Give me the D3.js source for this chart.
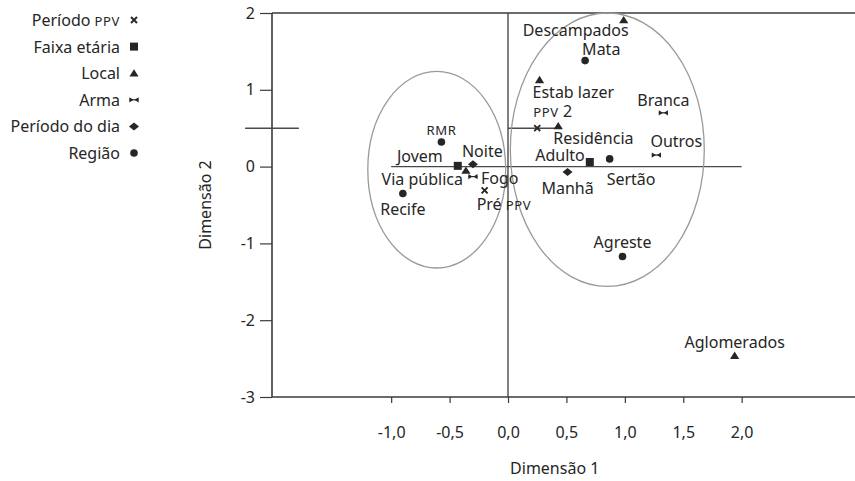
<!DOCTYPE html>
<html>
<head>
<meta charset="utf-8">
<script src="https://cdn.jsdelivr.net/npm/d3@7/dist/d3.min.js"></script>
<style>
  html, body { margin: 0; padding: 0; background: #fff; }
  svg { display: block; font-family: "Noto Sans", sans-serif; }
</style>
</head>
<body>
<svg id="chart" width="855" height="481"></svg>
<script>
// Categories of the correspondence analysis
const groupNames = ["Período PPV", "Faixa etária", "Local", "Arma", "Período do dia", "Região"];
const groupSymbols = ["cross", "square", "triangle", "bowtie", "diamond", "circle"];

// Category points (Dimensão 1, Dimensão 2)
const pointNames = ["RMR", "Jovem", "Noite", "Via pública", "Fogo", "Pré PPV", "Recife",
  "Descampados", "Mata", "Estab lazer", "PPV 2", "Residência", "Adulto", "Sertão",
  "Manhã", "Branca", "Outros", "Agreste", "Aglomerados"];
const pointGroup = [5, 1, 4, 2, 3, 0, 5,
  2, 5, 2, 0, 2, 1, 5,
  4, 3, 3, 5, 2];
const dim1 = [-0.57, -0.43, -0.30, -0.36, -0.30, -0.20, -0.90,
  0.99, 0.66, 0.27, 0.25, 0.43, 0.70, 0.87,
  0.51, 1.33, 1.27, 0.98, 1.94];
const dim2 = [0.32, 0.01, 0.03, -0.05, -0.13, -0.31, -0.35,
  1.91, 1.38, 1.13, 0.50, 0.53, 0.06, 0.10,
  -0.07, 0.70, 0.15, -1.17, -2.46];

// Axis ticks
const xTicks = [-1.0, -0.5, 0.0, 0.5, 1.0, 1.5, 2.0];
const yTicks = [2, 1, 0, -1, -2, -3];

// Reference lines: [x1, y1, x2, y2]
const refLines = [[-1.0, 0, 2.0, 0], [0, 2, 0, -3], [-2.25, 0.5, -1.79, 0.5], [0, 0.5, 0.42, 0.5]];

// Cluster ellipses: [centre x, centre y, radius x, radius y]
const clusters = [[-0.61, -0.04, 0.59, 1.28], [0.85, 0.22, 0.83, 1.78]];

// Label placement around each point: [anchor, dx, dy]
const labelPlacement = {
  "RMR": ["middle", 0, -7],
  "Jovem": ["end", -15, -4],
  "Noite": ["start", -11, -7],
  "Via pública": ["end", -3, 15],
  "Fogo": ["start", 8, 7.5],
  "Pré PPV": ["start", -8, 20],
  "Recife": ["middle", 0, 22],
  "Descampados": ["end", 5, 16],
  "Mata": ["start", -3, -6],
  "Estab lazer": ["start", -7, 18],
  "PPV 2": ["start", -4, -11],
  "Residência": ["start", -5, 18],
  "Adulto": ["end", -5, -1],
  "Sertão": ["start", -3, 26],
  "Manhã": ["middle", 0, 22],
  "Branca": ["middle", 0, -7],
  "Outros": ["start", -6, -8],
  "Agreste": ["middle", 0, -8],
  "Aglomerados": ["middle", 0, -8]
};

const svg = d3.select("#chart");
const ink = "#262626";
const fontSize = 16;
const smallCaps = new Set(["PPV", "RMR"]);

const x = d3.scaleLinear().domain([-2.02, 2.97]).range([272, 855]);
const y = d3.scaleLinear().domain([-3, 2]).range([397, 13]);

const locale = d3.formatLocale({decimal: ",", thousands: ".", grouping: [3], currency: ["", ""], minus: "-"});
const fmtX = locale.format(".1f");
const fmtY = locale.format("d");

// Write text, rendering acronyms as small capitals
function richText(sel, str) {
  const words = str.split(" ");
  words.forEach((w, i) => {
    const t = sel.append("tspan").text((i > 0 ? " " : "") + w);
    if (smallCaps.has(w)) t.attr("font-size", fontSize * 0.82).attr("letter-spacing", 0.6);
  });
}

// Marker shapes
function drawSymbol(g, type) {
  if (type === "cross") {
    g.append("path").attr("d", "M-3,-3L3,3M-3,3L3,-3")
      .attr("stroke", ink).attr("stroke-width", 1.9).attr("fill", "none");
  } else if (type === "square") {
    g.append("rect").attr("x", -4).attr("y", -4).attr("width", 8).attr("height", 8).attr("fill", ink);
  } else if (type === "triangle") {
    g.append("path").attr("d", "M0,-4L4.6,3.4L-4.6,3.4Z").attr("fill", ink);
  } else if (type === "bowtie") {
    g.append("path").attr("d", "M-4.6,-2.6L-4.6,2.6L-0.5,0ZM4.6,-2.6L4.6,2.6L0.5,0Z").attr("fill", ink);
    g.append("path").attr("d", "M-4.6,0L4.6,0").attr("stroke", ink).attr("stroke-width", 1.2);
  } else if (type === "diamond") {
    g.append("path").attr("d", "M0,-4L5,0L0,4L-5,0Z").attr("fill", ink);
  } else if (type === "circle") {
    g.append("circle").attr("r", 3.8).attr("fill", ink);
  }
}

// Frame: left axis, top and bottom rules
const [xLo, xHi] = x.domain();
const [yLo, yHi] = y.domain();
svg.append("g").selectAll("line")
  .data([[xLo, yHi, xHi, yHi], [xLo, yLo, xHi, yLo], [xLo, yLo, xLo, yHi]])
  .join("line")
  .attr("x1", d => x(d[0])).attr("y1", d => y(d[1]))
  .attr("x2", d => x(d[2])).attr("y2", d => y(d[3]))
  .attr("stroke", "#3a3a3a").attr("stroke-width", 1.6);

// Y axis ticks and labels
const yAxis = svg.append("g").attr("transform", `translate(${x(xLo)},0)`)
  .call(d3.axisLeft(y).tickValues(yTicks).tickFormat(fmtY).tickSize(12).tickPadding(5));
yAxis.select(".domain").remove();
yAxis.selectAll(".tick line").attr("stroke", "#3a3a3a").attr("stroke-width", 1.2);
yAxis.selectAll(".tick text").attr("fill", ink).attr("font-size", fontSize).attr("font-family", "Noto Sans");

// X axis ticks and labels
const xAxis = svg.append("g").attr("transform", `translate(0,${y(yLo)})`)
  .call(d3.axisBottom(x).tickValues(xTicks).tickFormat(fmtX).tickSize(6).tickPadding(24));
xAxis.select(".domain").remove();
xAxis.selectAll(".tick line").attr("stroke", "#3a3a3a").attr("stroke-width", 1.2);
xAxis.selectAll(".tick text").attr("fill", ink).attr("font-size", fontSize).attr("font-family", "Noto Sans");

// Axis titles
svg.append("text").attr("x", x(0.4)).attr("y", 474).attr("text-anchor", "middle")
  .attr("fill", ink).attr("font-size", fontSize).text("Dimensão 1");
svg.append("text").attr("transform", `translate(211,${y(-0.5)}) rotate(-90)`).attr("text-anchor", "middle")
  .attr("fill", ink).attr("font-size", fontSize).text("Dimensão 2");

// Reference lines
svg.append("g").selectAll("line").data(refLines).join("line")
  .attr("x1", d => x(d[0])).attr("y1", d => y(d[1]))
  .attr("x2", d => x(d[2])).attr("y2", d => y(d[3]))
  .attr("stroke", "#4a4a4a").attr("stroke-width", 1.4);

// Cluster ellipses
svg.append("g").selectAll("ellipse").data(clusters).join("ellipse")
  .attr("cx", d => x(d[0])).attr("cy", d => y(d[1]))
  .attr("rx", d => x(d[0] + d[2]) - x(d[0]))
  .attr("ry", d => y(d[1]) - y(d[1] + d[3]))
  .attr("fill", "none").attr("stroke", "#9a9a9a").attr("stroke-width", 1.3);

// Points and labels
const pts = svg.append("g").selectAll("g").data(pointNames).join("g")
  .attr("transform", (d, i) => `translate(${x(dim1[i])},${y(dim2[i])})`);
pts.each(function(d, i) {
  const g = d3.select(this);
  drawSymbol(g, groupSymbols[pointGroup[i]]);
  const [anchor, dx, dy] = labelPlacement[d];
  const t = g.append("text").attr("x", dx).attr("y", dy).attr("text-anchor", anchor)
    .attr("fill", ink).attr("font-size", fontSize);
  richText(t, d);
});

// Legend
const legend = svg.append("g").selectAll("g").data(groupNames).join("g")
  .attr("transform", (d, i) => `translate(0,${20 + i * 26.6})`);
legend.each(function(d, i) {
  const g = d3.select(this);
  const t = g.append("text").attr("x", 120).attr("y", 6).attr("text-anchor", "end")
    .attr("fill", ink).attr("font-size", fontSize);
  richText(t, d);
  drawSymbol(g.append("g").attr("transform", "translate(134,0)"), groupSymbols[i]);
});
</script>
</body>
</html>
